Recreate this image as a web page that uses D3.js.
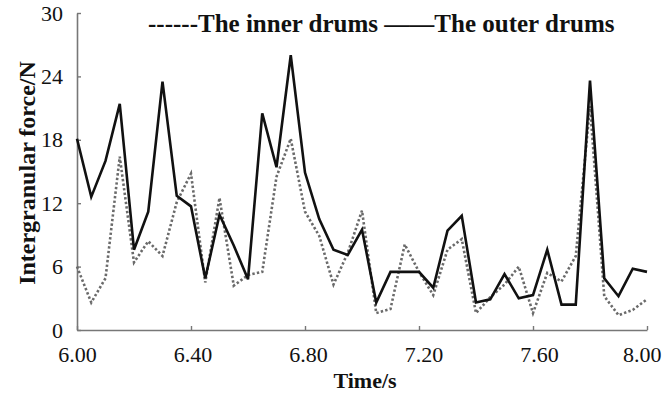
<!DOCTYPE html>
<html>
<head>
<meta charset="utf-8">
<script src="https://cdn.jsdelivr.net/npm/d3@7"></script>
<style>
  body { margin: 0; background: #fff; }
  text { font-family: "Liberation Serif", "Times New Roman", serif; }
</style>
</head>
<body>
<svg id="chart"></svg>
<script>
const times = [6.00, 6.05, 6.10, 6.15, 6.20, 6.25, 6.30, 6.35, 6.40, 6.45,
  6.50, 6.55, 6.60, 6.65, 6.70, 6.75, 6.80, 6.85, 6.90, 6.95,
  7.00, 7.05, 7.10, 7.15, 7.20, 7.25, 7.30, 7.35, 7.40, 7.45,
  7.50, 7.55, 7.60, 7.65, 7.70, 7.75, 7.80, 7.85, 7.90, 7.95, 8.00];

const outer = [18.1, 12.6, 16.0, 21.4, 7.6, 11.2, 23.5, 12.7, 11.7, 4.9,
  10.9, 8.0, 4.8, 20.5, 15.4, 26.0, 14.9, 10.5, 7.6, 7.1,
  9.5, 2.6, 5.5, 5.5, 5.5, 4.0, 9.4, 10.8, 2.6, 2.9,
  5.3, 3.0, 3.3, 7.6, 2.4, 2.4, 23.6, 4.9, 3.2, 5.8, 5.5];

const inner = [6.0, 2.6, 4.9, 16.4, 6.4, 8.4, 7.0, 12.1, 14.8, 4.5,
  12.5, 4.2, 5.2, 5.5, 14.5, 18.1, 11.2, 8.9, 4.3, 7.3,
  11.3, 1.6, 2.0, 8.1, 5.5, 3.3, 7.6, 8.6, 1.6, 3.1,
  4.3, 6.0, 1.6, 5.4, 4.6, 7.0, 21.2, 3.2, 1.4, 1.9, 2.9];

const xTicks = [6.00, 6.40, 6.80, 7.20, 7.60, 8.00];
const yTicks = [0, 6, 12, 18, 24, 30];

const width = 663, height = 394;

const svg = d3.select("#chart")
  .attr("width", width)
  .attr("height", height);

const x = d3.scaleLinear().domain([6, 8]).range([77, 647]);
const y = d3.scaleLinear().domain([0, 30]).range([330, 13]);

// axes, ticks pointing inwards
const xAxis = svg.append("g")
  .attr("transform", `translate(0, ${y(0)})`)
  .call(d3.axisBottom(x).tickValues(xTicks).tickSizeInner(-4).tickSizeOuter(0)
    .tickFormat(d3.format(".2f")));
xAxis.select(".domain").attr("stroke", "#777").attr("stroke-width", 1.6);
xAxis.selectAll(".tick line").attr("stroke", "#777").attr("stroke-width", 1.4);
xAxis.selectAll(".tick text")
  .attr("y", 32)
  .attr("dy", 0)
  .attr("x", (d, i) => i * 1.5)
  .style("font-size", "22px")
  .attr("fill", "#111");
// last label sits against the right edge, as in the original
xAxis.selectAll(".tick text").filter(d => d === 8)
  .attr("text-anchor", "end")
  .attr("x", 661 - x(8));

const yAxis = svg.append("g")
  .attr("transform", `translate(${x(6)}, 0)`)
  .call(d3.axisLeft(y).tickValues(yTicks).tickSizeInner(-4).tickSizeOuter(0));
yAxis.select(".domain").attr("stroke", "#777").attr("stroke-width", 1.6);
yAxis.selectAll(".tick line").attr("stroke", "#777").attr("stroke-width", 1.4);
yAxis.selectAll(".tick text")
  .attr("x", -14)
  .attr("dy", "0.32em")
  .style("font-size", "22px")
  .attr("fill", "#111");

const line = d3.line()
  .x((d, i) => x(times[i]))
  .y(d => y(d));

svg.append("path")
  .datum(inner)
  .attr("d", line)
  .attr("fill", "none")
  .attr("stroke", "#6a6a6a")
  .attr("stroke-width", 2.6)
  .attr("stroke-dasharray", "2.4,2.2");

svg.append("path")
  .datum(outer)
  .attr("d", line)
  .attr("fill", "none")
  .attr("stroke", "#111")
  .attr("stroke-width", 2.6)
  .attr("stroke-linejoin", "miter");

// legend written as text, like the original
svg.append("text")
  .attr("x", 148)
  .attr("y", 32)
  .style("font-size", "25px")
  .style("font-weight", "bold")
  .attr("fill", "#111")
  .text("------The inner drums \u2014\u2014The outer drums");

svg.append("text")
  .attr("x", 365)
  .attr("y", 388)
  .attr("text-anchor", "middle")
  .style("font-size", "22px")
  .style("font-weight", "bold")
  .attr("fill", "#111")
  .text("Time/s");

svg.append("text")
  .attr("transform", `translate(35, 173) rotate(-90)`)
  .attr("text-anchor", "middle")
  .style("font-size", "24px")
  .style("font-weight", "bold")
  .attr("fill", "#111")
  .text("Intergranular force/N");
</script>
</body>
</html>
